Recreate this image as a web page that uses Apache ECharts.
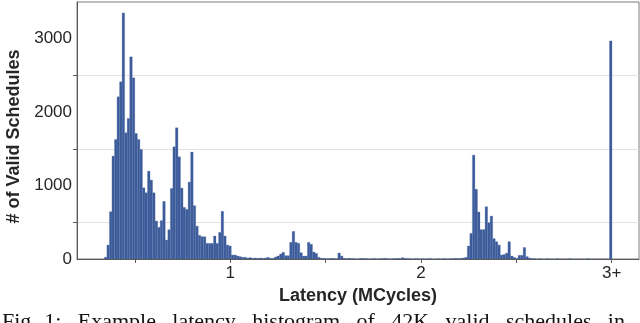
<!DOCTYPE html>
<html>
<head>
<meta charset="utf-8">
<script src="https://cdn.jsdelivr.net/npm/echarts@6/dist/echarts.min.js"></script>
<style>
html,body{margin:0;padding:0;background:#fff;}
#chart{width:640px;height:323px;}
</style>
</head>
<body>
<div id="chart"></div>
<script>
// Histogram bins (MCycles); the final bin collects all latencies >= 3 ("3+")
const binStart = 0.3394;
const binWidth = 0.01331;
const counts = [
  25, 190, 644, 1401, 1628, 2209, 2413, 3351, 1719, 1914,
  2753, 2467, 1710, 1628, 1492, 970, 902, 1197, 1075, 902,
  517, 431, 522, 785, 258, 399, 961, 1528, 1787, 1392,
  966, 703, 676, 1048, 1456, 726, 447, 322, 304, 304,
  213, 213, 213, 313, 213, 363, 649, 313, 190, 177,
  54, 54, 41, 32, 23, 23, 14, 18, 9, 14,
  9, 14, 9, 14, 23, 9, 9, 27, 41, 68,
  91, 45, 45, 227, 376, 227, 213, 86, 41, 41,
  227, 200, 95, 77, 23, 9, 9, 5, 5, 9,
  5, 5, 82, 41, 9, 5, 9, 5, 5, 0,
  5, 9, 5, 5, 0, 5, 5, 0, 5, 5,
  9, 5, 0, 5, 5, 9, 5, 18, 9, 5,
  5, 0, 5, 5, 0, 5, 0, 5, 5, 0,
  0, 5, 0, 5, 5, 0, 5, 5, 9, 5,
  9, 14, 23, 177, 349, 1415, 950, 640, 400, 400,
  712, 494, 585, 277, 236, 190, 54, 60, 80, 236,
  41, 23, 9, 50, 50, 157, 32, 14, 5, 5,
  0, 5, 0, 0, 5, 0, 0, 0, 5, 0,
  0, 0, 0, 5, 0, 0, 0, 0, 0, 0,
  5, 0, 0, 0, 0, 0, 0, 0, 0, 2970
];
const xLabelValues = [1, 2, 3];
const xLabelTexts = ['1', '2', '3+'];
const xTickValues = [0.5, 1, 1.5, 2, 2.5, 3];
const yLabelValues = [0, 1000, 2000, 3000];
const yMinorTicks = [500, 1500, 2500];
const xTitle = 'Latency (MCycles)';
const yTitle = '# of Valid Schedules';
const captionWords = ['Fig.', '1:', 'Example', 'latency', 'histogram', 'of', '42K', 'valid', 'schedules', 'in'];

const binData = counts.map((c, i) => [binStart + i * binWidth, binStart + (i + 1) * binWidth, c]);

// justified caption line (cut off by the bottom edge, as in the reference)
const capFont = '22px "Liberation Serif"';
const ctx = document.createElement('canvas').getContext('2d');
ctx.font = capFont;
const widths = captionWords.map(w => ctx.measureText(w).width);
const capLeft = 2, capRight = 634;
const gap = (capRight - capLeft - widths.reduce((a, b) => a + b, 0)) / (captionWords.length - 1);
let cx = capLeft;
const captionGraphics = captionWords.map((w, i) => {
  const g = {type: 'text', left: cx, top: 311, silent: true, style: {text: w, font: capFont, fill: '#111'}};
  cx += widths[i] + (i === 0 ? gap * 0.45 : gap);
  return g;
});

const chart = echarts.init(document.getElementById('chart'), null, {renderer: 'canvas'});
const axisColor = '#5a5a5a';
const textColor = '#262626';
chart.setOption({
  animation: false,
  backgroundColor: '#ffffff',
  grid: {left: 77, right: 1, top: 2, bottom: 64, show: true, borderColor: '#7a7a7a', borderWidth: 1,
         containLabel: false, outerBoundsMode: 'none'},
  xAxis: {
    type: 'value', min: 0.196, max: 3.143,
    splitLine: {show: false},
    axisLine: {show: true, lineStyle: {color: axisColor, width: 1}},
    axisTick: {show: true, customValues: xTickValues, length: 4, lineStyle: {color: axisColor}},
    axisLabel: {
      customValues: xLabelValues, margin: 6,
      formatter: v => xLabelTexts[xLabelValues.indexOf(v)] ?? '',
      color: textColor, fontFamily: 'Liberation Sans', fontSize: 17
    },
    name: xTitle, nameLocation: 'middle', nameGap: 26,
    nameTextStyle: {fontFamily: 'Liberation Sans', fontWeight: 'bold', fontSize: 18, color: textColor}
  },
  yAxis: {
    type: 'value', min: 0, max: 3500, interval: 500,
    splitLine: {show: true, lineStyle: {color: '#e2e2e2', width: 1}},
    axisLine: {show: true, lineStyle: {color: axisColor, width: 1}},
    axisTick: {show: true, customValues: yMinorTicks, length: 4, lineStyle: {color: axisColor}},
    axisLabel: {
      customValues: yLabelValues, margin: 5,
      formatter: v => String(v),
      color: textColor, fontFamily: 'Liberation Sans', fontSize: 17
    },
    name: yTitle, nameLocation: 'middle', nameGap: 41,
    nameTextStyle: {fontFamily: 'Liberation Sans', fontWeight: 'bold', fontSize: 18, color: textColor,
                    padding: [0, 12, 0, 0]}
  },
  graphic: captionGraphics,
  series: [{
    type: 'custom',
    clip: true,
    encode: {x: [0, 1], y: 2},
    data: binData,
    renderItem: (params, api) => {
      const p0 = api.coord([api.value(0), 0]);
      const p1 = api.coord([api.value(1), api.value(2)]);
      return {
        type: 'rect',
        shape: {x: p0[0], y: p1[1], width: p1[0] - p0[0], height: p0[1] - p1[1]},
        style: {fill: '#3b5a99', stroke: '#5d77ad', lineWidth: 0.3}
      };
    }
  }]
});
</script>
</body>
</html>
